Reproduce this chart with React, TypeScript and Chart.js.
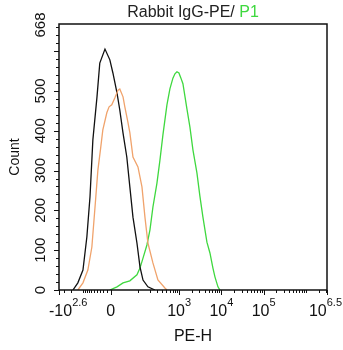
import React, { useEffect, useRef } from 'react';
import { Chart, LineController, LineElement, PointElement, LinearScale } from 'chart.js';

// ---- data (PE-H value, count) ----
const blackX = [-184, -139, -103, -81, -66, -54, -39, -30, -15, -2, 6, 17, 25, 35, 48, 60, 74, 95, 114, 136, 180, 266];
const blackY = [0, 18, 50, 133, 234, 377, 485, 570, 605, 578, 545, 495, 452, 394, 334, 259, 183, 118, 58, 25, 8, 0];

const orangeX = [-139, -103, -76, -58, -43, -36, -27, -21, -10, -4, 3, 11, 20, 25, 35, 41, 52, 60, 74, 101, 128, 152, 180, 238, 314, 461, 515];
const orangeY = [0, 18, 50, 108, 234, 301, 359, 402, 445, 460, 465, 482, 502, 505, 485, 460, 422, 395, 334, 309, 259, 183, 118, 68, 25, 5, 0];

const greenX = [-2, 17, 35, 60, 95, 114, 136, 170, 202, 238, 297, 351, 414, 515, 606, 714, 797, 889, 992, 1106, 1233, 1533, 1806, 2127, 2644, 3115, 3667, 4560, 5373, 6326, 7056, 8310, 9268];
const greenY = [0, 8, 18, 23, 38, 55, 80, 113, 151, 208, 268, 326, 390, 465, 505, 532, 543, 548, 545, 532, 518, 455, 409, 352, 294, 235, 183, 120, 93, 55, 33, 8, 0];

const X_MIN = -398.1; // -10^2.6
const X_MAX = 3162278; // 10^6.5
const Y_MAX = 668;

const xMajorTicks = [-398.1, 0, 1000, 10000, 100000, 3162278];
const xMinorTicks = [
  -300, -200, -100, -90, -80, -70, -60, -50, -40, -30, -20, -10,
  100, 200, 300, 400, 500, 600, 700, 800, 900,
  2000, 3000, 4000, 5000, 6000, 7000, 8000, 9000,
  20000, 30000, 40000, 50000, 60000, 70000, 80000, 90000,
  200000, 300000, 400000, 500000, 600000, 700000, 800000, 900000,
  1000000, 2000000, 3000000,
];
const xTickLabels: [number, string, string][] = [
  [-398.1, '-10', '2.6'],
  [0, '0', ''],
  [1000, '10', '3'],
  [10000, '10', '4'],
  [100000, '10', '5'],
  [3162278, '10', '6.5'],
];
const yMajorTicks = [0, 100, 200, 300, 400, 500, 600];
const yTickLabels = ['0', '100', '200', '300', '400', '500', '668'];
const yTickLabelValues = [0, 100, 200, 300, 400, 500, 668];

const W = 48;
const tf = (v: number) => Math.asinh(v / W);

class LogicleScale extends LinearScale {
  static id = 'logicle';
  static defaults = {};
  getPixelForValue(value: number) {
    const a = tf(this.min), b = tf(this.max);
    return this.getPixelForDecimal((tf(value) - a) / (b - a));
  }
  getValueForPixel(pixel: number) {
    const a = tf(this.min), b = tf(this.max);
    return W * Math.sinh(a + this.getDecimalForPixel(pixel) * (b - a));
  }
  buildTicks() {
    return xMajorTicks.map((v) => ({ value: v }));
  }
}

Chart.register(LineController, LineElement, PointElement, LinearScale, LogicleScale as any);

const FONT = '"Liberation Sans", Arial, sans-serif';
const GREEN = '#3fd83f';

const axesPlugin = {
  id: 'flowAxes',
  afterDraw(chart: any) {
    const { ctx, chartArea: ca, scales } = chart;
    const xs = scales.x, ys = scales.y;
    ctx.save();
    ctx.strokeStyle = '#111';
    ctx.lineWidth = 1;
    ctx.beginPath();
    // y ticks
    for (let v = 0; v <= Y_MAX; v += 20) {
      const y = Math.round(ys.getPixelForValue(v)) + 0.5;
      const len = yMajorTicks.includes(v) ? 5 : 3;
      ctx.moveTo(ca.left - len, y);
      ctx.lineTo(ca.left, y);
    }
    // x ticks
    xMinorTicks.forEach((v) => {
      const x = Math.round(xs.getPixelForValue(v)) + 0.5;
      ctx.moveTo(x, ca.bottom);
      ctx.lineTo(x, ca.bottom + 3);
    });
    xMajorTicks.forEach((v) => {
      const x = Math.round(xs.getPixelForValue(v)) + 0.5;
      ctx.moveTo(x, ca.bottom);
      ctx.lineTo(x, ca.bottom + 5);
    });
    ctx.stroke();
    // frame
    ctx.lineWidth = 1.5;
    ctx.strokeRect(ca.left, ca.top, ca.right - ca.left, ca.bottom - ca.top);

    ctx.fillStyle = '#111';
    // y tick labels (rotated)
    ctx.font = `15px ${FONT}`;
    ctx.textAlign = 'center';
    ctx.textBaseline = 'middle';
    yTickLabelValues.forEach((v, i) => {
      const y = ys.getPixelForValue(v);
      ctx.save();
      ctx.translate(41, y + (v === Y_MAX ? 1 : 0));
      ctx.rotate(-Math.PI / 2);
      ctx.fillText(yTickLabels[i], 0, 0);
      ctx.restore();
    });
    // x tick labels with exponent
    ctx.textAlign = 'left';
    ctx.textBaseline = 'alphabetic';
    xTickLabels.forEach(([v, base, exp]) => {
      const cx = xs.getPixelForValue(v);
      ctx.font = `16px ${FONT}`;
      const wb = ctx.measureText(base).width;
      ctx.font = `11px ${FONT}`;
      const we = exp ? ctx.measureText(exp).width : 0;
      const total = wb + we;
      let left = cx - total / 2;
      left = Math.max(49, Math.min(342 - total, left));
      ctx.font = `16px ${FONT}`;
      ctx.fillText(base, left, 316);
      if (exp) {
        ctx.font = `11px ${FONT}`;
        ctx.fillText(exp, left + wb, 306);
      }
    });
    // axis titles
    ctx.font = `16px ${FONT}`;
    ctx.textAlign = 'center';
    ctx.textBaseline = 'middle';
    ctx.fillText('PE-H', (ca.left + ca.right) / 2, 337);
    ctx.font = `14px ${FONT}`;
    ctx.save();
    ctx.translate(15, (ca.top + ca.bottom) / 2);
    ctx.rotate(-Math.PI / 2);
    ctx.fillText('Count', 0, 0);
    ctx.restore();
    // title
    const t1 = 'Rabbit IgG-PE/ ';
    const t2 = 'P1';
    ctx.font = `16px ${FONT}`;
    ctx.textAlign = 'left';
    ctx.textBaseline = 'alphabetic';
    const w1 = ctx.measureText(t1).width;
    const w2 = ctx.measureText(t2).width;
    const tl = (ca.left + ca.right) / 2 - (w1 + w2) / 2;
    ctx.fillStyle = '#222';
    ctx.fillText(t1, tl, 17);
    ctx.fillStyle = GREEN;
    ctx.fillText(t2, tl + w1, 17);
    ctx.restore();
  },
};

const toPts = (xs: number[], ys: number[]) => xs.map((x, i) => ({ x, y: ys[i] }));

export default function App() {
  const ref = useRef<HTMLCanvasElement>(null);
  useEffect(() => {
    if (!ref.current) return;
    const chart = new Chart(ref.current, {
      type: 'line',
      data: {
        datasets: [
          { label: 'Isotype', data: toPts(orangeX, orangeY), borderColor: '#f0a36c', borderWidth: 1.3, pointRadius: 0, tension: 0, fill: false },
          { label: 'Blank', data: toPts(blackX, blackY), borderColor: '#111111', borderWidth: 1.3, pointRadius: 0, tension: 0, fill: false },
          { label: 'P1', data: toPts(greenX, greenY), borderColor: GREEN, borderWidth: 1.3, pointRadius: 0, tension: 0, fill: false },
        ],
      },
      options: {
        responsive: false,
        animation: false,
        devicePixelRatio: 1,
        layout: { padding: { left: 59, right: 16, top: 24, bottom: 60 } },
        plugins: { legend: { display: false }, title: { display: false }, tooltip: { enabled: false } },
        scales: {
          x: {
            type: 'logicle' as any,
            min: X_MIN,
            max: X_MAX,
            grid: { display: false },
            border: { display: false },
            ticks: { display: false },
            afterFit: (s: any) => { s.height = 0; },
          },
          y: {
            type: 'linear',
            min: 0,
            max: Y_MAX,
            grid: { display: false },
            border: { display: false },
            ticks: { display: false },
            afterFit: (s: any) => { s.width = 0; },
          },
        },
      },
      plugins: [axesPlugin],
    });
    return () => chart.destroy();
  }, []);
  return (
    <div style={{ position: 'absolute', left: 0, top: 0, width: 343, height: 350, background: '#fff' }}>
      <canvas ref={ref} width={343} height={350} style={{ display: 'block' }} />
    </div>
  );
}
